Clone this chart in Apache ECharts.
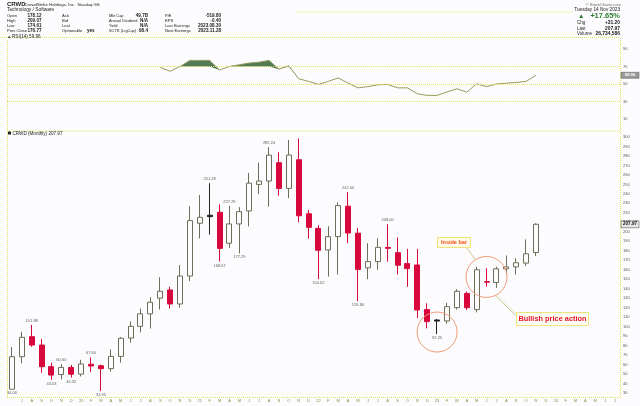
<!DOCTYPE html>
<html><head><meta charset="utf-8">
<script src="https://cdn.jsdelivr.net/npm/echarts@6/dist/echarts.min.js"></script>
<style>html,body{margin:0;padding:0;background:#fcfcfe}#c{width:640px;height:406px}</style>
</head><body><div id="c"></div>
<script>
const categories = ['2019-06','2019-07','2019-08','2019-09','2019-10','2019-11','2019-12',
'2020-01','2020-02','2020-03','2020-04','2020-05','2020-06','2020-07','2020-08','2020-09','2020-10','2020-11','2020-12',
'2021-01','2021-02','2021-03','2021-04','2021-05','2021-06','2021-07','2021-08','2021-09','2021-10','2021-11','2021-12',
'2022-01','2022-02','2022-03','2022-04','2022-05','2022-06','2022-07','2022-08','2022-09','2022-10','2022-11','2022-12',
'2023-01','2023-02','2023-03','2023-04','2023-05','2023-06','2023-07','2023-08','2023-09','2023-10','2023-11','2023-12',
'2024-01','2024-02','2024-03','2024-04','2024-05','2024-06','2024-07'];
const tickLabels = ['','J','A','S','O','N','D',
'20','F','M','A','M','J','J','A','S','O','N','D',
'21','F','M','A','M','J','J','A','S','O','N','D',
'22','F','M','A','M','J','J','A','S','O','N','D',
'23','F','M','A','M','J','J','A','S','O','N','D',
'24','F','M','A','M','J','J'];
const openP  = [34.00,68.3,89.4,80.6,57.8,49.5,57.0,49.9,60.3,58.8,55.7,68.6,88.0,100.3,113.5,130.0,138.7,123.9,153.4,209.0,217.5,220.6,188.0,208.3,222.0,250.0,253.6,272.9,245.8,276.0,219.0,203.6,180.8,195.0,227.0,198.5,162.0,168.6,183.5,178.0,166.5,165.0,118.0,107.0,106.0,120.0,135.0,118.0,147.5,146.5,161.0,163.0,167.0,178.12];
const highP  = [78.5,94.6,101.88,87.0,62.0,60.6,59.6,65.0,67.6,60.0,76.0,89.0,105.5,119.0,131.0,152.0,142.0,165.0,227.0,238.9,251.28,229.0,227.29,226.0,262.0,272.9,289.24,283.9,296.9,298.48,223.0,207.0,205.8,231.0,242.0,204.0,188.0,193.2,208.0,194.0,182.0,182.0,124.6,108.0,125.0,139.5,137.0,163.2,161.5,163.2,175.0,172.0,192.0,209.07];
const lowP   = [34.00,61.3,78.8,51.4,44.03,44.4,46.32,47.5,52.0,31.95,52.5,62.0,83.0,94.0,98.0,118.0,119.0,120.0,148.0,193.0,197.0,168.67,183.0,177.29,205.7,239.7,226.5,238.1,235.4,210.0,192.8,150.02,152.7,155.0,187.9,126.8,150.0,160.0,168.5,155.0,142.0,109.0,98.2,92.25,103.0,118.0,117.6,115.0,142.1,141.0,155.0,155.0,164.0,174.61];
const closeP = [68.3,88.7,80.6,57.8,49.0,57.0,49.9,60.6,58.5,55.7,68.6,87.7,100.3,113.5,125.7,137.3,123.9,153.4,211.8,215.3,216.0,182.5,208.3,221.3,251.3,253.5,280.9,245.8,281.0,216.9,204.7,180.6,194.9,227.7,198.7,160.3,168.6,183.6,182.6,164.8,161.2,117.6,105.3,105.9,121.1,137.3,120.0,160.0,146.9,161.0,163.0,167.4,176.8,207.97];
const rsi = [null,null,null,null,null,null,null,null,null,null,null,null,null,null,null,
69,64.5,70,77,77,77,66,70,72,74,75,77,67,71,56,53,49.5,53,57,51,45.6,47,49,49.5,45.6,45.6,38.8,37,37,41,44.5,40.7,50.2,47,50,51,51.7,53,59.96,
null,null,null,null,null,null,null,null];
const highLabelIdx = [2,5,8,20,22,26,34,38];
const lowLabelIdx  = [0,4,6,9,21,23,31,35,43];

const RED = '#d8083c', HOLLOW = '#6e6e58', BLACK = '#222';
const candleData = openP.map((o, i) => {
  const c = closeP[i], prev = i > 0 ? closeP[i-1] : o;
  let st;
  if (c >= o) { const b = c >= prev ? HOLLOW : RED; st = {color:'#fcfcfe', color0:'#fcfcfe', borderColor:b, borderColor0:b}; }
  else { const f = c >= prev ? BLACK : RED; st = {color:f, color0:f, borderColor:f, borderColor0:f}; }
  return {value:[o, c, lowP[i], highP[i]], itemStyle:st};
});

const chart = echarts.init(document.getElementById('c'), null, {renderer:'canvas', width:640, height:406});
const FONT = 'Liberation Sans, Arial, sans-serif';
const YEL = '#e4e25c';
chart.setOption({
  animation:false,
  backgroundColor:'#fcfcfe',
  textStyle:{fontFamily:FONT},
  grid:[{left:7,right:20,top:40.25,height:87.5},{left:7,right:20,top:127.5,height:275}],
  xAxis:[
    {type:'category',gridIndex:0,data:categories,boundaryGap:true,axisLine:{show:false},axisTick:{show:false},axisLabel:{show:false},splitLine:{show:false}},
    {type:'category',gridIndex:1,data:categories,boundaryGap:true,axisLine:{show:false,onZero:false},axisTick:{show:false},
     axisLabel:{show:true,interval:0,margin:-4,fontSize:4,color:'#8a8a48',fontFamily:FONT,formatter:(v,i)=>tickLabels[i]},splitLine:{show:false}}
  ],
  yAxis:[
    {type:'value',gridIndex:0,position:'right',min:0,max:100,interval:10,axisLine:{show:false},axisTick:{show:false},splitLine:{show:false},
     axisLabel:{fontSize:4,color:'#555',margin:3,fontFamily:FONT,formatter:v=>(v%20===10)?String(v):''}},
    {type:'value',gridIndex:1,position:'right',min:20,max:310,interval:10,axisLine:{show:false},axisTick:{show:false},splitLine:{show:false},
     axisLabel:{fontSize:4,color:'#555',margin:3,fontFamily:FONT,formatter:v=>(v>=30&&v<=300)?String(v):''}}
  ],
  series:[
    {type:'line',xAxisIndex:0,yAxisIndex:0,stack:'rf',data:rsi.map(v=>v==null?null:Math.min(v,70)),symbol:'none',lineStyle:{opacity:0},silent:true},
    {type:'line',xAxisIndex:0,yAxisIndex:0,stack:'rf',data:rsi.map(v=>v==null?null:Math.max(v-70,0)),symbol:'none',lineStyle:{opacity:0},areaStyle:{color:'#4f7b55',opacity:1},silent:true},
    {type:'line',xAxisIndex:0,yAxisIndex:0,data:rsi,symbol:'none',lineStyle:{color:'#9a9a5e',width:1},silent:true,
     markLine:{silent:true,symbol:'none',label:{show:false},lineStyle:{color:YEL,type:'dotted',width:1},data:[{yAxis:70},{yAxis:50},{yAxis:30}]}},
    {type:'candlestick',xAxisIndex:1,yAxisIndex:1,barWidth:5.5,data:candleData},
    {type:'scatter',xAxisIndex:1,yAxisIndex:1,symbolSize:1,itemStyle:{color:'rgba(0,0,0,0)'},silent:true,
     data:highLabelIdx.map(i=>[i,highP[i]]),
     label:{show:true,position:'top',distance:1.5,fontSize:4,color:'#333',fontFamily:FONT,formatter:p=>p.value[1].toFixed(2)}},
    {type:'scatter',xAxisIndex:1,yAxisIndex:1,symbolSize:1,itemStyle:{color:'rgba(0,0,0,0)'},silent:true,
     data:lowLabelIdx.map(i=>[i,lowP[i]]),
     label:{show:true,position:'bottom',distance:1.5,fontSize:4,color:'#333',fontFamily:FONT,formatter:p=>p.value[1].toFixed(2)}}
  ]
});

const px = (i,p)=>chart.convertToPixel({xAxisIndex:1,yAxisIndex:1},[i,p]);
const rpx = (i,v)=>chart.convertToPixel({xAxisIndex:0,yAxisIndex:0},[i,v]);
const G = [];
function txt(x,y,text,o){o=o||{};G.push({type:'text',x:x,y:y,z:o.z||50,silent:true,style:{text:text,fill:o.fill||'#222',fontSize:o.size||4.6,fontWeight:o.bold?'bold':'normal',fontFamily:FONT,align:o.align||'left',verticalAlign:'middle'}});}
function line(x1,y1,x2,y2,o){o=o||{};G.push({type:'line',z:o.z||5,silent:true,shape:{x1:x1,y1:y1,x2:x2,y2:y2},style:{stroke:o.stroke||YEL,lineWidth:o.w||1,lineDash:o.dash===undefined?[1,1]:o.dash}});}

// frame lines
line(297,12,572,12); line(0,37.5,620,37.5); line(7,131,620,131); line(7,397.5,620,397.5);
line(620.5,38,620.5,398); line(7.5,40,7.5,398);

// header
txt(7,4.5,'CRWD',{bold:true,size:6}); txt(24.5,4.5,'CrowdStrike Holdings, Inc.  Nasdaq GS',{size:4.3});
txt(7,10,'Technology / Software',{size:4.8});
const rowsY=[16,21,26,31];
const c1=['Open','High','Low','Prev Close'], v1=['178.12','209.07','174.61','176.77'];
const c2=['Ask','Bid','Last','Optionable'], v2=['','','','yes'];
const c3=['Mkt Cap','Annual Dividend','Yield','SCTR (LrgCap)'], v3=['49.7B','N/A','N/A','98.4'];
const c4=['P/E','EPS','Last Earnings','Next Earnings'], v4=['-519.80','-0.40','2023.08.30','2023.11.28'];
rowsY.forEach((y,k)=>{
  txt(7,y,c1[k],{size:4.1}); txt(27.5,y,v1[k],{bold:true,size:4.6});
  txt(62,y,c2[k],{size:4.2}); txt(87,y,v2[k],{bold:true,size:4.6});
  txt(109,y,c3[k],{size:3.9}); txt(148,y,v3[k],{bold:true,size:4.6,align:'right'});
  txt(165,y,c4[k],{size:4.1}); txt(221,y,v4[k],{bold:true,size:4.6,align:'right'});
});
txt(7,37,'\u25B2',{size:4.5,fill:'#444'}); txt(12,37,'RSI(14) 59.96',{size:4.6});
txt(621,4.5,'\u00A9 StockCharts.com',{size:4.1,align:'right',fill:'#666'});
txt(620,10,'Tuesday 14 Nov 2023',{size:4.7,align:'right'});
txt(578,16,'\u25B2',{size:6.5,fill:'#2e7d32'}); txt(620,16,'+17.65%',{size:7.5,bold:true,align:'right',fill:'#2e7d32'});
txt(577,22.5,'Chg',{size:4.5}); txt(620,22.5,'+31.20',{size:4.9,bold:true,align:'right'});
txt(577,28.5,'Last',{size:4.5}); txt(620,28.5,'207.97',{size:4.9,bold:true,align:'right'});
txt(577,34,'Volume',{size:4.5}); txt(620,34,'26,734,586',{size:4.9,bold:true,align:'right'});

// main title
G.push({type:'rect',z:50,silent:true,shape:{x:8,y:131.5,width:3,height:3},style:{fill:'#222'}});
txt(12.5,133.5,'CRWD (Monthly) 207.97',{size:4.6});

// value tags
const rLast = rpx(53,59.96);
G.push({type:'rect',z:60,silent:true,shape:{x:621,y:rLast[1]-3,width:18,height:6},style:{fill:'#9a9a9a',stroke:'#555',lineWidth:0.5}});
txt(630,rLast[1],'59.96',{size:4.2,bold:true,align:'center',fill:'#fff',z:70});
const pLast = px(53,closeP[53]);
G.push({type:'rect',z:60,silent:true,shape:{x:621,y:pLast[1]-3.5,width:18,height:7},style:{fill:'#e6e6e6',stroke:'#444',lineWidth:0.5}});
txt(630,pLast[1],closeP[53].toFixed(2),{size:4.5,bold:true,align:'center',fill:'#111',z:70});

// annotations
const cA = px(43.06,94.3), cB = px(47.9,152.4);
G.push({type:'circle',z:40,silent:true,shape:{cx:cA[0],cy:cA[1],r:20},style:{fill:'none',stroke:'#f09a78',lineWidth:1}});
G.push({type:'circle',z:40,silent:true,shape:{cx:cB[0],cy:cB[1],r:20.5},style:{fill:'none',stroke:'#f09a78',lineWidth:1}});
line(cB[0]+9,cB[1]+19,517,316.5,{stroke:'#c9c98c',dash:null,w:1});
line(cB[0]+11,cB[1]+18,518,315.5,{stroke:'#d9d9a8',dash:null,w:0.6});
line(466,247,cB[0]-11,cB[1]-17,{stroke:'#d9c98c',dash:null,w:1});
G.push({type:'rect',z:45,silent:true,shape:{x:516.5,y:312.5,width:72,height:13},style:{fill:'#fffff4',stroke:'#ece47a',lineWidth:1}});
txt(552.5,319,'Bullish price action',{size:7.4,bold:true,align:'center',fill:'#e5102e'});
G.push({type:'rect',z:45,silent:true,shape:{x:437.5,y:237.5,width:33,height:10},style:{fill:'#fff9e8',stroke:'#ece47a',lineWidth:1}});
txt(454,242.5,'Inside bar',{size:5.5,bold:true,align:'center',fill:'#f4501e'});

chart.setOption({graphic:G});
</script></body></html>
